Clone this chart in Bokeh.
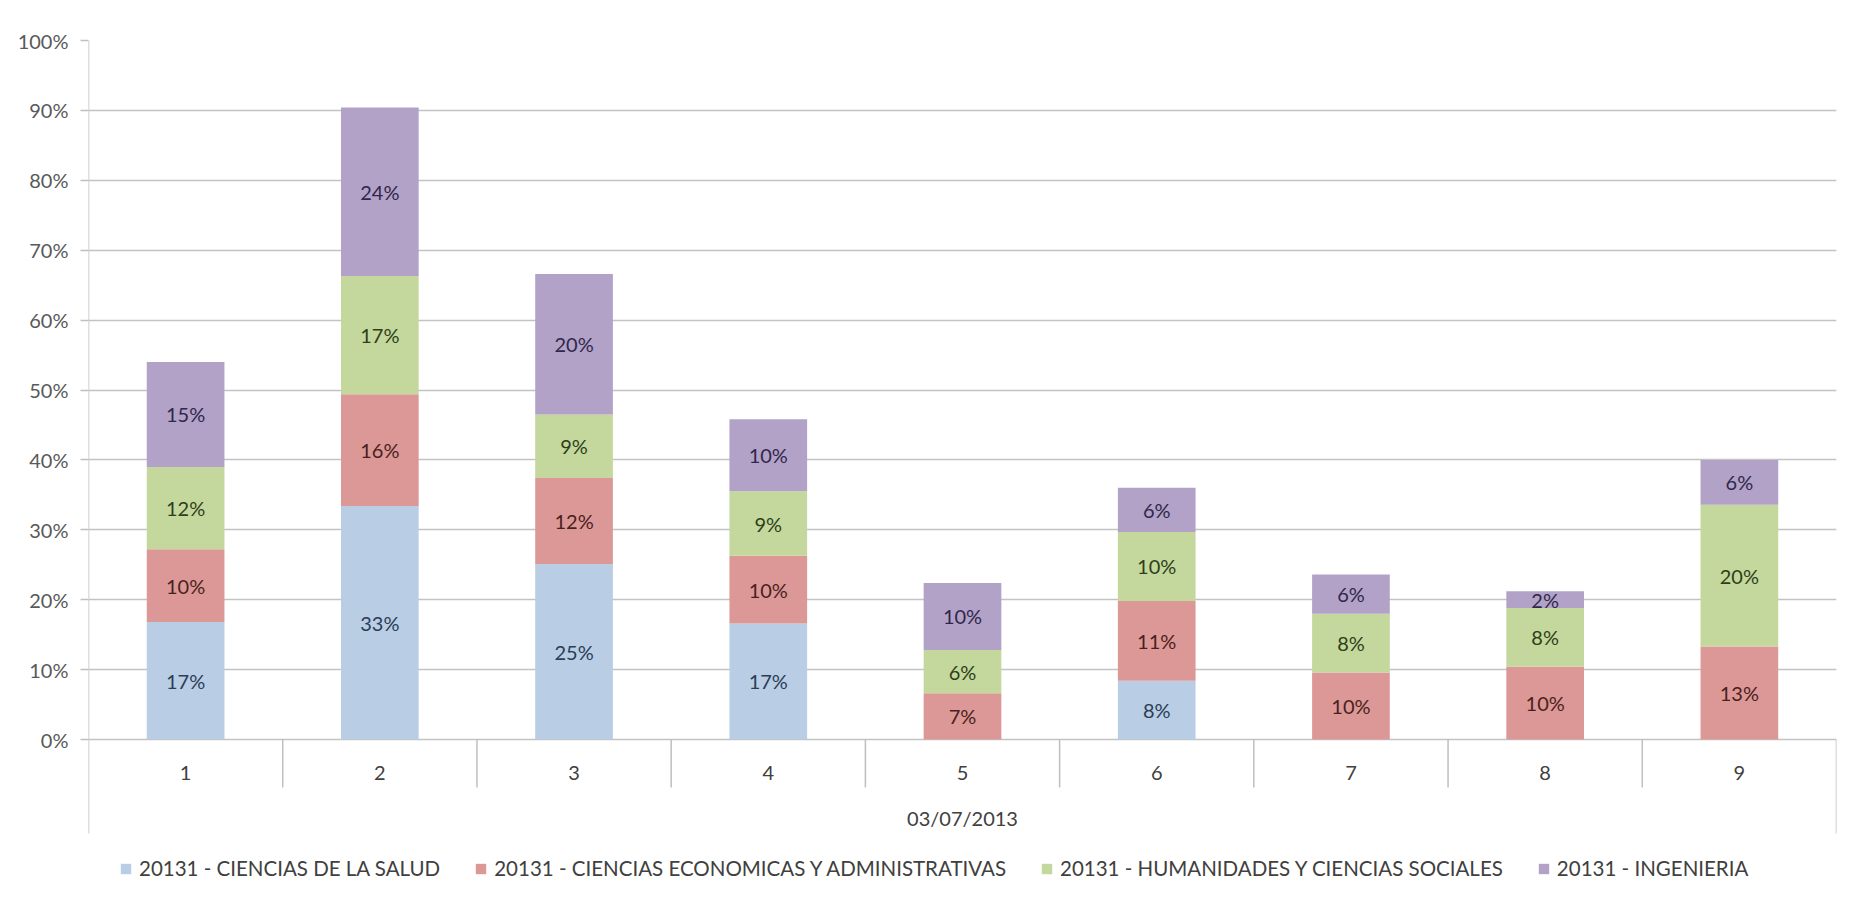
from bokeh.plotting import figure
from bokeh.models import ColumnDataSource, Range1d, FixedTicker, NumeralTickFormatter, Legend, LegendItem
from bokeh.core.properties import value
from bokeh.embed import file_html
from bokeh.resources import INLINE

# ---------------- data ----------------
categories = ["1", "2", "3", "4", "5", "6", "7", "8", "9"]
axis_group_label = "03/07/2013"
series_names = [
    "20131 - CIENCIAS DE LA SALUD",
    "20131 - CIENCIAS ECONOMICAS Y ADMINISTRATIVAS",
    "20131 - HUMANIDADES Y CIENCIAS SOCIALES",
    "20131 - INGENIERIA",
]
salud = [16.8, 33.4, 25.1, 16.6, 0.0, 8.4, 0.0, 0.0, 0.0]
economicas = [10.4, 16.0, 12.3, 9.7, 6.6, 11.4, 9.6, 10.4, 13.3]
humanidades = [11.8, 16.9, 9.1, 9.2, 6.2, 9.9, 8.4, 8.4, 20.3]
ingenieria = [15.0, 24.1, 20.1, 10.3, 9.6, 6.3, 5.6, 2.4, 6.4]
y_tick_values = [0, 10, 20, 30, 40, 50, 60, 70, 80, 90, 100]

# ---------------- styles ----------------
bar_colors = ["#B9CDE5", "#DC9896", "#C4D79D", "#B2A2C8"]
label_colors = ["#2B3D57", "#4A1F20", "#2E3F18", "#31274A"]
FONT = "Lato"

series = [salud, economicas, humanidades, ingenieria]
n = len(categories)
xs = list(range(1, n + 1))

# layout (pixels in figure coordinates)
W, H = 1849, 885
top_b, left_b, right_b = 40, 88, 13
px_per_unit = 699.0           # pixels for 100 %
frame_h = H - top_b
y_bottom = 1.0 - frame_h / px_per_unit

p = figure(width=W, height=H, output_backend="svg", toolbar_location=None,
           x_range=Range1d(0.5, n + 0.5), y_range=Range1d(y_bottom, 1.0),
           x_axis_location=None, min_border_left=left_b, min_border_right=right_b,
           min_border_top=top_b, min_border_bottom=0, tools="")
p.outline_line_color = None
p.background_fill_color = "white"
p.border_fill_color = "white"
p.xgrid.visible = False

yax = p.yaxis[0]
yax.ticker = FixedTicker(ticks=[v / 100 for v in y_tick_values], minor_ticks=[])
yax.formatter = NumeralTickFormatter(format="0%")
yax.axis_line_color = None
yax.major_tick_out = 8
yax.major_tick_in = 0
yax.major_tick_line_color = "#BFBFBF"
yax.major_tick_line_width = 1.5
yax.minor_tick_line_color = None
yax.major_label_standoff = 12
yax.major_label_text_font = FONT
yax.major_label_text_font_size = "20px"
yax.major_label_text_color = "#595959"
p.ygrid.grid_line_color = "#C3C3C3"
p.ygrid.grid_line_width = 1.5

# ---------------- bars ----------------
src = ColumnDataSource(dict(x=xs, **{f"s{i}": [v / 100 for v in s] for i, s in enumerate(series)}))
renderers = p.vbar_stack([f"s{i}" for i in range(len(series))], x="x", width=0.4,
                         color=bar_colors, line_color=None, source=src)

# data labels
bottoms = [0.0] * n
for si, s in enumerate(series):
    lx, ly, lt = [], [], []
    for i, v in enumerate(s):
        if v > 0:
            lx.append(xs[i])
            ly.append((bottoms[i] + v / 2) / 100)
            lt.append(f"{int(v + 0.5)}%")
        bottoms[i] += v
    p.text(x=lx, y=ly, text=lt, text_align="center", text_baseline="middle",
           text_font=value(FONT), text_font_size="20px", text_color=label_colors[si])

# ---------------- category axis (multi-level, Excel style) ----------------
line_c = "#BFBFBF"
lvl1 = -(772 - 739) / px_per_unit
lvl1_end = -(787 - 739) / px_per_unit
lvl2 = -(817 - 739) / px_per_unit
axis_end = -(833 - 739) / px_per_unit
# y axis line extended below the plot
p.segment(x0=[0.5], y0=[axis_end], x1=[0.5], y1=[1.0], line_color=line_c, line_width=1.5)
# right closing line of the group level
p.segment(x0=[n + 0.5], y0=[axis_end], x1=[n + 0.5], y1=[0], line_color=line_c, line_width=1.5)
# separators between categories
seps = [i + 0.5 for i in range(1, n)]
p.segment(x0=seps, y0=[lvl1_end] * len(seps), x1=seps, y1=[0] * len(seps),
          line_color=line_c, line_width=1.5)
p.text(x=xs, y=[lvl1] * n, text=categories, text_align="center", text_baseline="middle",
       text_font=value(FONT), text_font_size="20px", text_color="#404040")
p.text(x=[(n + 1) / 2], y=[lvl2], text=[axis_group_label], text_align="center",
       text_baseline="middle", text_font=value(FONT), text_font_size="20px", text_color="#404040")

# ---------------- legend ----------------
legend = Legend(items=[LegendItem(label=name, renderers=[r]) for name, r in zip(series_names, renderers)],
                orientation="horizontal", location=(31, 5), padding=0, margin=0,
                spacing=34, label_standoff=7, glyph_width=13, glyph_height=13,
                label_text_font=FONT, label_text_font_size="20.5px", label_text_color="#404040",
                border_line_color=None, background_fill_alpha=0)
p.add_layout(legend)

open("out.html", "w").write(file_html(p, INLINE))
